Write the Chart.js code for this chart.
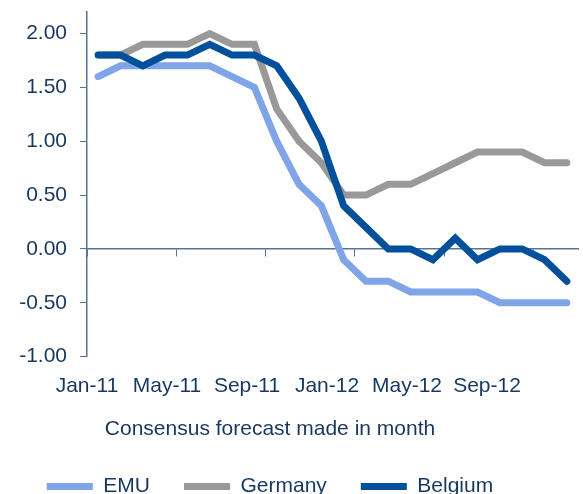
<!DOCTYPE html>
<html>
<head>
<meta charset="utf-8">
<script src="https://cdn.jsdelivr.net/npm/chart.js@4/dist/chart.umd.min.js"></script>
<style>
  body { margin: 0; background: #fff; }
  #wrap { width: 583px; height: 494px; position: relative; }
</style>
</head>
<body>
<div id="wrap"><canvas id="chart"></canvas></div>
<script>
// Data
const months = ["Jan-11", "Feb-11", "Mar-11", "Apr-11", "May-11", "Jun-11", "Jul-11", "Aug-11",
  "Sep-11", "Oct-11", "Nov-11", "Dec-11", "Jan-12", "Feb-12", "Mar-12", "Apr-12",
  "May-12", "Jun-12", "Jul-12", "Aug-12", "Sep-12", "Oct-12"];
const tickLabels = ["Jan-11", "May-11", "Sep-11", "Jan-12", "May-12", "Sep-12"];
const emu = [1.6, 1.7, 1.7, 1.7, 1.7, 1.7, 1.6, 1.5, 1.0, 0.6, 0.4, -0.1, -0.3, -0.3, -0.4, -0.4, -0.4, -0.4, -0.5, -0.5, -0.5, -0.5];
const germany = [1.8, 1.8, 1.9, 1.9, 1.9, 2.0, 1.9, 1.9, 1.3, 1.0, 0.8, 0.5, 0.5, 0.6, 0.6, 0.7, 0.8, 0.9, 0.9, 0.9, 0.8, 0.8];
const belgium = [1.8, 1.8, 1.7, 1.8, 1.8, 1.9, 1.8, 1.8, 1.7, 1.4, 1.0, 0.4, 0.2, 0.0, 0.0, -0.1, 0.1, -0.1, 0.0, 0.0, -0.1, -0.3];

const textColor = "#17375e";
const axisColor = "#56739c";
const font = { family: "'Liberation Sans', Arial, sans-serif", size: 21 };

function series(label, data, color, order) {
  return {
    label, data, order,
    borderColor: color,
    backgroundColor: color,
    borderWidth: 7,
    borderCapStyle: "round",
    borderJoinStyle: "miter",
    pointRadius: 0,
    tension: 0
  };
}

const ctx = document.getElementById("chart").getContext("2d");
new Chart(ctx, {
  type: "line",
  data: {
    labels: months,
    datasets: [
      series("EMU", emu, "#7fa4e8", 3),
      series("Germany", germany, "#999999", 2),
      series("Belgium", belgium, "#00509b", 1)
    ]
  },
  options: {
    responsive: true,
    maintainAspectRatio: false,
    animation: false,
    // legend and title sit left of centre in the original, hence the negative left padding
    layout: { padding: { top: 12, right: 5, left: -38, bottom: -13 } },
    plugins: {
      tooltip: { enabled: false },
      title: {
        display: true,
        position: "bottom",
        weight: 500,
        text: "Consensus forecast made in month",
        color: textColor,
        font: { ...font, weight: "normal" },
        padding: { top: 1, bottom: 0 }
      },
      legend: {
        position: "bottom",
        labels: {
          usePointStyle: true,
          pointStyle: "line",
          pointStyleWidth: 46,
          padding: 34,
          color: textColor,
          font: font,
          sort: (a, b) => a.datasetIndex - b.datasetIndex
        }
      }
    },
    scales: {
      x: {
        type: "category",
        position: { y: 0 },
        offset: true,
        ticks: { display: false },
        grid: {
          offset: true,
          drawOnChartArea: false,
          tickLength: 7,
          tickColor: (c) => (c.index % 4 === 0 ? axisColor : "transparent")
        },
        border: { color: axisColor, width: 1.5 }
      },
      xl: {
        type: "linear",
        position: "bottom",
        min: 0,
        max: 24.55,
        afterBuildTicks: (s) => { s.ticks = tickLabels.map((t, i) => ({ value: i * 4 })); },
        ticks: {
          autoSkip: false,
          maxRotation: 0,
          padding: 17,
          color: textColor,
          font: font,
          callback: (v) => tickLabels[v / 4]
        },
        grid: { display: false, drawTicks: false },
        border: { display: false }
      },
      y: {
        min: -1,
        max: 2.2,
        afterFit: (s) => { s.width = 125; s.paddingTop = 0; s.paddingBottom = 0; },
        ticks: {
          stepSize: 0.5,
          includeBounds: false,
          padding: 13,
          color: textColor,
          font: font,
          callback: (v) => v.toFixed(2)
        },
        grid: { drawOnChartArea: false, tickLength: 7, color: axisColor },
        border: { color: axisColor, width: 1.5 }
      }
    }
  }
});
</script>
</body>
</html>
